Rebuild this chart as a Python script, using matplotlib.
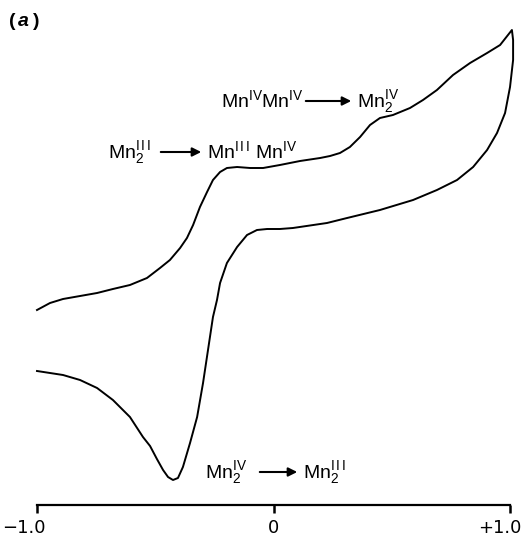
#!/usr/bin/env python3
"""Cyclic voltammogram, panel (a): Mn2 III/IV redox waves."""
import matplotlib
matplotlib.use("Agg")
import matplotlib.pyplot as plt
from matplotlib.patches import FancyArrowPatch
from matplotlib.transforms import ScaledTranslation

plt.rcParams["font.family"] = ["Liberation Sans", "DejaVu Sans"]
plt.rcParams["mathtext.fontset"] = "custom"
plt.rcParams["mathtext.rm"] = "Liberation Sans"
plt.rcParams["mathtext.it"] = "Liberation Sans:italic"
plt.rcParams["mathtext.bf"] = "Liberation Sans:bold"

# anodic (forward) scan, potential in V, current in arbitrary units
e_fwd = [-1.000, -0.945, -0.890, -0.818, -0.746, -0.679, -0.607, -0.535,
         -0.480, -0.438, -0.395, -0.366, -0.340, -0.311, -0.281, -0.256,
         -0.226, -0.197, -0.154, -0.099, -0.044, 0.027, 0.112, 0.197,
         0.239, 0.281, 0.323, 0.366, 0.408, 0.450, 0.505, 0.577, 0.632,
         0.691, 0.759, 0.831, 0.903, 0.958, 1.008]
i_fwd = [19.5, 20.2, 20.6, 20.9, 21.2, 21.6, 22.0, 22.7, 23.7, 24.5,
         25.7, 26.7, 28.0, 29.8, 31.3, 32.5, 33.3, 33.7, 33.8, 33.7,
         33.7, 34.0, 34.4, 34.7, 34.9, 35.2, 35.8, 36.8, 38.0, 38.7,
         39.0, 39.7, 40.5, 41.5, 43.0, 44.2, 45.2, 46.0, 47.5]

# cathodic (reverse) scan
e_rev = [1.008, 1.013, 1.013, 1.000, 0.979, 0.945, 0.903, 0.844, 0.776,
         0.691, 0.590, 0.450, 0.311, 0.226, 0.082, 0.027, -0.027, -0.070,
         -0.112, -0.154, -0.197, -0.226, -0.239, -0.256, -0.277, -0.298,
         -0.323, -0.353, -0.383, -0.404, -0.425, -0.446, -0.467, -0.493,
         -0.522, -0.552, -0.607, -0.679, -0.746, -0.818, -0.890, -0.945,
         -1.000]
i_rev = [47.5, 46.5, 44.5, 41.8, 39.2, 37.2, 35.5, 33.8, 32.5, 31.5,
         30.5, 29.5, 28.7, 28.2, 27.7, 27.6, 27.6, 27.5, 27.0, 25.8,
         24.2, 22.2, 20.5, 18.8, 15.5, 12.2, 8.8, 6.2, 3.8, 2.7, 2.5,
         2.8, 3.5, 4.6, 5.9, 6.8, 8.8, 10.5, 11.7, 12.5, 13.0, 13.2, 13.4]

tick_vals = [-1.0, 0.0, 1.0]
tick_labels = ["\u22121.0", "0", "+1.0"]

W, H = 522, 539
fig = plt.figure(figsize=(W / 100, H / 100), dpi=100)
# axes: -1 V at x=37 px, +1 V at x=510 px, zero current line at y=505 px
ax = fig.add_axes([13.35 / W, 34 / H, 508.5 / W, 505 / H])
ax.set_xlim(-1.1, 1.05)
ax.set_ylim(0, 50.5)

ax.plot(e_fwd + e_rev, i_fwd + i_rev, color="black", lw=1.4,
        solid_joinstyle="round", clip_on=False)

for s in ("top", "right", "left"):
    ax.spines[s].set_visible(False)
ax.spines["bottom"].set_bounds(-1, 1)
ax.spines["bottom"].set_linewidth(1.6)
ax.set_yticks([])
ax.set_xticks(tick_vals)
ax.set_xticklabels(tick_labels, fontsize=13, family="DejaVu Sans")
ax.tick_params(axis="x", direction="out", length=6, width=1.8, pad=4)
labs = ax.get_xticklabels()
labs[0].set_horizontalalignment("left")
labs[0].set_transform(labs[0].get_transform()
                      + ScaledTranslation(-0.35, 0, fig.dpi_scale_trans))
labs[2].set_horizontalalignment("right")
labs[2].set_transform(labs[2].get_transform()
                      + ScaledTranslation(0.11, 0, fig.dpi_scale_trans))


def fx(px):
    return px / W


def fy(py):
    return 1 - py / H


def label(x0, y0, left, x1, x2, right):
    fig.text(fx(x0), fy(y0), left, fontsize=14, ha="left", va="baseline")
    fig.text(fx(x2 + 3), fy(y0), right, fontsize=14, ha="left",
             va="baseline")
    fig.patches.append(FancyArrowPatch(
        (fx(x1), fy(y0 - 6)), (fx(x2), fy(y0 - 6)),
        transform=fig.transFigure, arrowstyle="-|>", mutation_scale=13,
        lw=1.5, color="black"))


label(221, 107, r"Mn$^{\mathrm{IV}}$Mn$^{\mathrm{IV}}$", 303, 354,
      r"Mn$_2^{\mathrm{IV}}$")
label(108, 158, r"Mn$_2^{\mathrm{I\,I\,I}}$", 158, 204,
      r"Mn$^{\mathrm{I\,I\,I}}$ Mn$^{\mathrm{IV}}$")
label(205, 478, r"Mn$_2^{\mathrm{IV}}$", 257, 300,
      r"Mn$_2^{\mathrm{I\,I\,I}}$")

fig.text(fx(9), fy(26), "(", fontsize=14, fontweight="bold")
fig.text(fx(18), fy(26), "a", fontsize=14, fontweight="bold",
         fontstyle="italic")
fig.text(fx(33), fy(26), ")", fontsize=14, fontweight="bold")

fig.savefig("out.png", dpi=100)
